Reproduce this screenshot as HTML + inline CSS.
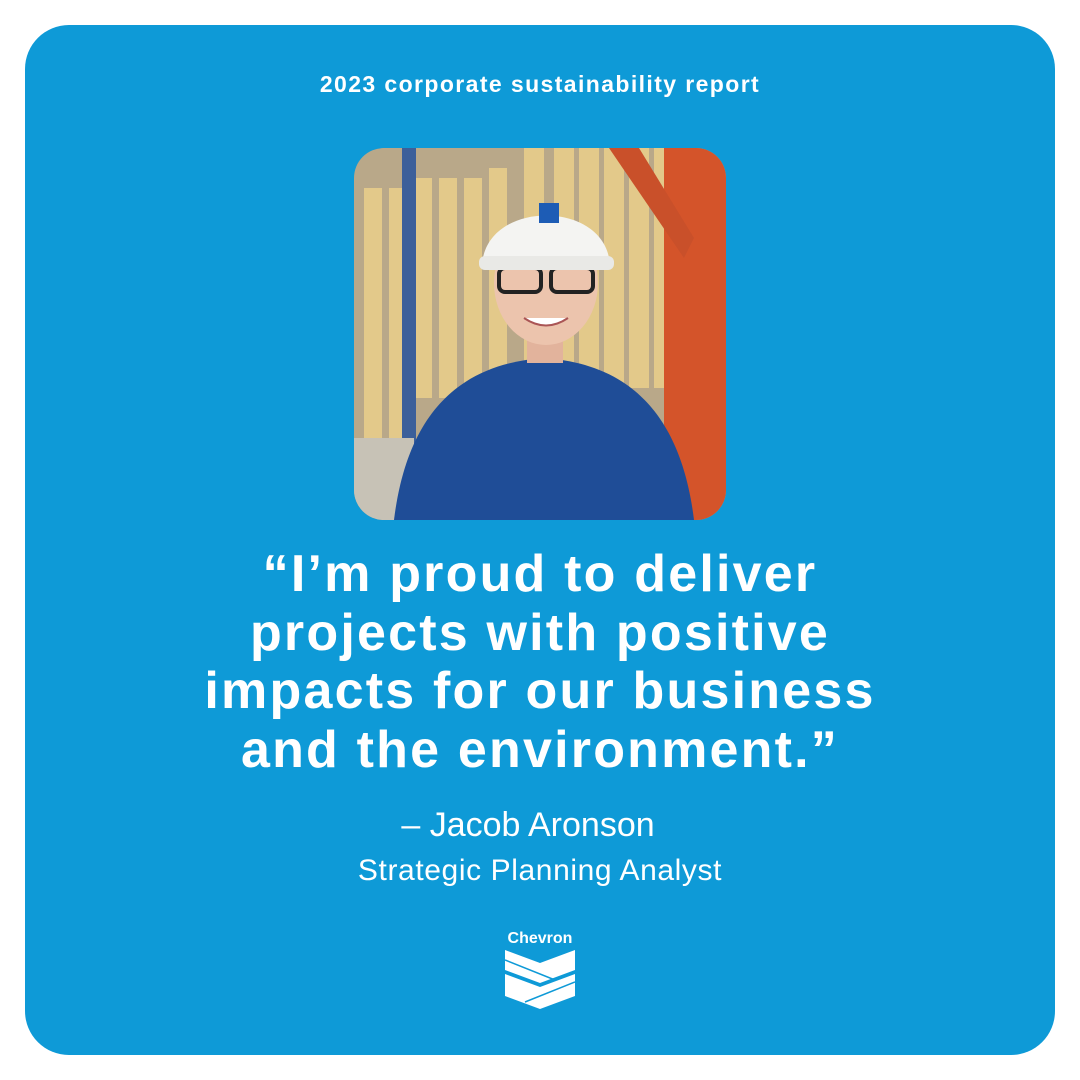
<!DOCTYPE html>
<html><head><meta charset="utf-8"><style>
html,body{margin:0;padding:0;background:#fff;width:1080px;height:1080px;overflow:hidden}
#card{position:absolute;left:25px;top:25px;width:1030px;height:1030px;border-radius:44px;background:#0e9ad7}
.t{position:absolute;left:0;width:1080px;text-align:center;color:#fff;font-family:"Liberation Sans",sans-serif;white-space:nowrap}
</style></head><body>
<div id="card"></div>
<div class="t" style="top:71px;font-size:23px;font-weight:bold;letter-spacing:1.4px">2023 corporate sustainability report</div>
<svg style="position:absolute;left:354px;top:148px" width="372" height="372" viewBox="0 0 372 372">
<defs><clipPath id="c"><rect width="372" height="372" rx="30"/></clipPath></defs>
<g clip-path="url(#c)">
<rect width="372" height="372" fill="#b9a889"/>
<g fill="#e3c98a">
<rect x="10" y="40" width="18" height="270"/><rect x="35" y="40" width="18" height="270"/><rect x="60" y="30" width="18" height="220"/><rect x="85" y="30" width="18" height="220"/><rect x="110" y="30" width="18" height="220"/><rect x="135" y="20" width="18" height="220"/><rect x="170" y="0" width="20" height="240"/><rect x="200" y="0" width="20" height="240"/><rect x="225" y="0" width="20" height="240"/><rect x="250" y="0" width="20" height="240"/><rect x="275" y="0" width="20" height="240"/><rect x="300" y="0" width="18" height="240"/>
</g>
<rect x="48" y="0" width="14" height="372" fill="#3c5f9a"/>
<rect x="310" y="0" width="62" height="372" fill="#d4542a"/>
<polygon points="255,0 285,0 340,90 330,110" fill="#c9502a"/>
<rect x="0" y="290" width="60" height="82" fill="#c7c2b6"/>
<path d="M40,372 C55,250 120,215 190,210 C260,215 325,250 340,372 Z" fill="#1f4d97"/>
<rect x="173" y="175" width="36" height="40" fill="#e2b39c"/>
<ellipse cx="192" cy="135" rx="52" ry="62" fill="#ecc4ad"/>
<rect x="145" y="120" width="42" height="24" rx="6" fill="none" stroke="#222" stroke-width="4"/>
<rect x="197" y="120" width="42" height="24" rx="6" fill="none" stroke="#222" stroke-width="4"/>
<path d="M170,170 Q192,185 214,170" fill="#fff" stroke="#a55" stroke-width="2"/>
<path d="M128,120 C128,50 256,50 256,120 Z" fill="#f4f4f2"/>
<rect x="125" y="108" width="135" height="14" rx="6" fill="#e9e9e6"/>
<rect x="185" y="55" width="20" height="20" fill="#1d5cb5"/>
</g></svg>
<div class="t" style="top:545px;font-size:52px;font-weight:bold;line-height:58.5px;letter-spacing:2.2px">“I’m proud to deliver<br>projects with positive<br>impacts for our business<br>and the environment.”</div>
<div class="t" style="top:806px;font-size:34px;left:-12px">– Jacob Aronson</div>
<div class="t" style="top:854px;font-size:30px;letter-spacing:0.6px">Strategic Planning Analyst</div>
<div class="t" style="top:930px;font-size:16px;font-weight:bold">Chevron</div>
<svg style="position:absolute;left:505px;top:950px" width="70" height="60" viewBox="0 0 70 60">
<polygon points="0,0 35,13 70,0 70,20 35,33 0,20" fill="#fff"/>
<polygon points="0,24 35,37 70,24 70,46 35,59 0,46" fill="#fff"/>
<line x1="0" y1="10" x2="50" y2="30" stroke="#0e9ad7" stroke-width="1.5"/>
<line x1="70" y1="32" x2="20" y2="52" stroke="#0e9ad7" stroke-width="1.5"/>
</svg>
</body></html>
